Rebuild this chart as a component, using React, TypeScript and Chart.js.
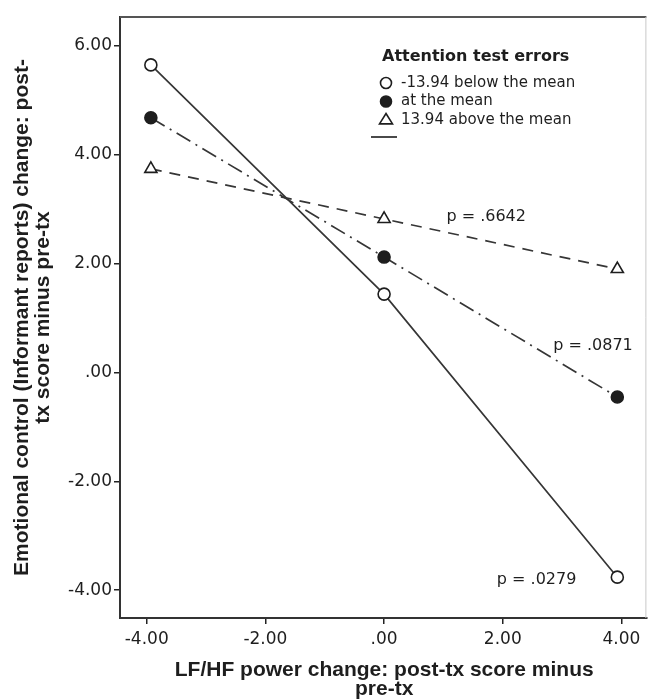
import React, { useEffect, useRef } from "react";
import { Chart, registerables } from "chart.js";
Chart.register(...registerables);

// ---- data ----
const xValues = [-3.93, 0, 3.93];
const belowMean = [5.65, 1.44, -3.76];
const atMean = [4.68, 2.12, -0.45];
const aboveMean = [3.74, 2.82, 1.9];
const seriesLabels = ["-13.94 below the mean", "at the mean", "13.94 above the mean"];
const legendTitle = "Attention test errors";
const xTicks = [-4, -2, 0, 2, 4];
const yTicks = [-4, -2, 0, 2, 4, 6];
const pTexts = ["p = .6642", "p = .0871", "p = .0279"];
const pX = [1.05, 2.85, 1.9];
const pY = [2.86, 0.49, -3.8];
const xTitle = ["LF/HF power change: post-tx score minus", "pre-tx"];
const yTitle = ["Emotional control (Informant reports) change: post-", "tx score minus pre-tx"];

const fmt = (v: any) => {
  const n = Number(v);
  return n === 0 ? ".00" : n.toFixed(2);
};

const LINE = "#363636";
const INK = "#1e1e1e";

function drawMarker(ctx: CanvasRenderingContext2D, style: string, filled: boolean, x: number, y: number, r: number) {
  ctx.save();
  ctx.lineWidth = 1.6;
  ctx.strokeStyle = INK;
  ctx.fillStyle = filled ? INK : "#fff";
  ctx.beginPath();
  if (style === "triangle") {
    ctx.moveTo(x, y - r);
    ctx.lineTo(x + r * 1.0, y + r * 0.6);
    ctx.lineTo(x - r * 1.0, y + r * 0.6);
    ctx.closePath();
  } else {
    ctx.arc(x, y, r, 0, Math.PI * 2);
  }
  ctx.fill();
  ctx.stroke();
  ctx.restore();
}

const framePlugin = {
  id: "frame",
  afterDraw(chart: any) {
    const { ctx, chartArea: a } = chart;
    ctx.save();
    ctx.strokeStyle = "#555";
    ctx.lineWidth = 2;
    ctx.beginPath();
    ctx.moveTo(a.left, a.top);
    ctx.lineTo(a.right, a.top);
    ctx.stroke();
    ctx.strokeStyle = "#c8c8c8";
    ctx.lineWidth = 1;
    ctx.beginPath();
    ctx.moveTo(a.right - 0.5, a.top);
    ctx.lineTo(a.right - 0.5, a.bottom);
    ctx.stroke();
    ctx.restore();
  },
};

function drawCondensed(ctx: CanvasRenderingContext2D, lines: string[], target: number, lineGap: number) {
  const w0 = ctx.measureText(lines[0]).width;
  const k = Math.min(1, target / w0);
  lines.forEach((t, i) => {
    ctx.save();
    ctx.translate(0, i * lineGap);
    ctx.scale(k, 1);
    ctx.fillText(t, 0, 0);
    ctx.restore();
  });
}

const titlesPlugin = {
  id: "titles",
  afterDraw(chart: any) {
    const { ctx, chartArea: a } = chart;
    ctx.save();
    ctx.fillStyle = INK;
    ctx.font = "bold 21px 'Liberation Sans', Arial, sans-serif";
    ctx.textAlign = "center";
    ctx.textBaseline = "middle";
    // x title
    ctx.save();
    ctx.translate((a.left + a.right) / 2 + 1, a.bottom + 52);
    drawCondensed(ctx, xTitle, 433, 19);
    ctx.restore();
    // y title
    ctx.save();
    ctx.translate(a.left - 98, (a.top + a.bottom) / 2);
    ctx.rotate(-Math.PI / 2);
    drawCondensed(ctx, yTitle, 531, 21);
    ctx.restore();
    ctx.restore();
  },
};

const legendPlugin = {
  id: "customLegend",
  afterDraw(chart: any) {
    const { ctx, chartArea: a } = chart;
    const x0 = a.left + 262;
    ctx.save();
    ctx.fillStyle = INK;
    ctx.textBaseline = "middle";
    ctx.textAlign = "left";
    ctx.font = "bold 16px 'DejaVu Sans', sans-serif";
    ctx.fillText(legendTitle, x0, a.top + 40);
    ctx.font = "15px 'DejaVu Sans', sans-serif";
    chart.data.datasets.forEach((ds: any, i: number) => {
      const y = a.top + 66 + i * 18.5;
      drawMarker(ctx, ds.pointStyle, ds.pointBackgroundColor !== "#fff", x0 + 4, y, ds.pointStyle === "triangle" ? 6.5 : 5.5);
      ctx.fillStyle = INK;
      ctx.fillText(ds.label, x0 + 19, y);
    });
    const ly = a.top + 120;
    ctx.strokeStyle = LINE;
    ctx.lineWidth = 1.8;
    ctx.beginPath();
    ctx.moveTo(x0 - 11, ly);
    ctx.lineTo(x0 + 15, ly);
    ctx.stroke();
    ctx.restore();
  },
};

const pPlugin = {
  id: "pLabels",
  afterDatasetsDraw(chart: any) {
    const { ctx, scales } = chart;
    ctx.save();
    ctx.fillStyle = INK;
    ctx.font = "16px 'DejaVu Sans', sans-serif";
    ctx.textAlign = "left";
    ctx.textBaseline = "middle";
    pTexts.forEach((t, i) => {
      ctx.fillText(t, scales.x.getPixelForValue(pX[i]), scales.y.getPixelForValue(pY[i]));
    });
    ctx.restore();
  },
};

export default function App() {
  const ref = useRef<HTMLCanvasElement>(null);
  useEffect(() => {
    document.body.style.margin = "0";
    const canvas = ref.current!;
    const mk = (vals: number[]) => xValues.map((x, i) => ({ x, y: vals[i] }));
    const base = {
      showLine: true,
      borderColor: LINE,
      borderWidth: 1.7,
      pointBorderColor: INK,
      pointBorderWidth: 1.6,
      pointHoverRadius: 6,
      fill: false,
    };
    const chart = new Chart(canvas, {
      type: "scatter",
      data: {
        datasets: [
          { ...base, label: seriesLabels[0], data: mk(belowMean), pointStyle: "circle", pointRadius: 6, pointBackgroundColor: "#fff" },
          { ...base, label: seriesLabels[1], data: mk(atMean), pointStyle: "circle", pointRadius: 6, pointBackgroundColor: INK, borderDash: [16, 6, 2, 6] },
          { ...base, label: seriesLabels[2], data: mk(aboveMean), pointStyle: "triangle", pointRadius: 7, pointBackgroundColor: "#fff", borderDash: [11, 8] },
        ],
      } as any,
      options: {
        responsive: false,
        animation: false,
        layout: { padding: { top: 17, right: 1, left: 0, bottom: 0 } },
        plugins: { legend: { display: false }, tooltip: { enabled: false } },
        scales: {
          x: {
            type: "linear",
            min: -4.45,
            max: 4.42,
            afterBuildTicks: (s: any) => {
              s.ticks = xTicks.map((v) => ({ value: v }));
            },
            afterFit: (s: any) => {
              s.height = 82;
            },
            grid: { display: true, drawOnChartArea: false, drawTicks: true, tickLength: 6, color: "#222", lineWidth: 1.5 },
            border: { display: true, color: "#333", width: 2 },
            ticks: { font: { family: "'DejaVu Sans', sans-serif", size: 17 }, color: INK, padding: 5, maxRotation: 0, callback: fmt },
          },
          y: {
            type: "linear",
            min: -4.51,
            max: 6.53,
            afterBuildTicks: (s: any) => {
              s.ticks = yTicks.map((v) => ({ value: v }));
            },
            afterFit: (s: any) => {
              s.width = 120;
            },
            grid: { display: true, drawOnChartArea: false, drawTicks: true, tickLength: 6, color: "#222", lineWidth: 1.5 },
            border: { display: true, color: "#333", width: 2 },
            ticks: { font: { family: "'DejaVu Sans', sans-serif", size: 17 }, color: INK, padding: 2, callback: fmt },
          },
        },
      } as any,
      plugins: [framePlugin, titlesPlugin, legendPlugin, pPlugin],
    });
    return () => chart.destroy();
  }, []);
  return <canvas ref={ref} width={655} height={700} style={{ display: "block" }} />;
}
